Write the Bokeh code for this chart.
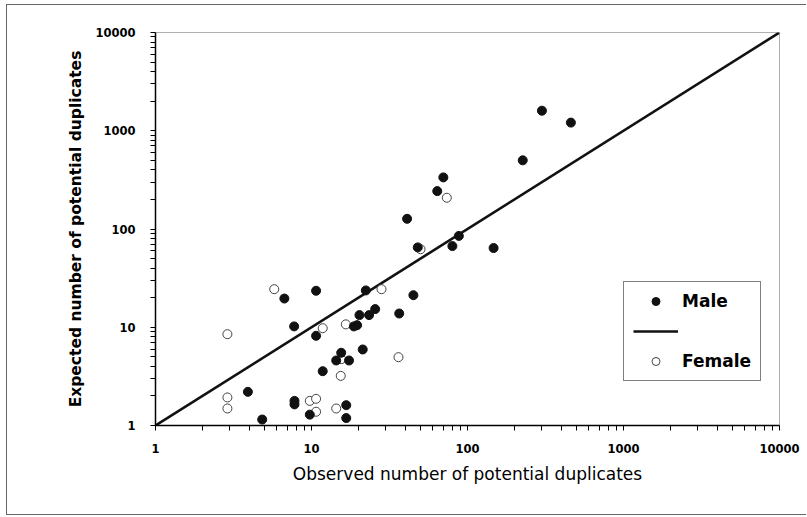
from bokeh.plotting import figure
from bokeh.models import (Range1d, FixedTicker, CustomJSTickFormatter, Legend, LegendItem,
                          ColumnDataSource)
from bokeh.embed import file_html
from bokeh.resources import INLINE

# ---- data ----
male_observed = [460, 300, 226, 70, 64, 41, 48, 88, 80, 147, 45, 6.7, 10.7, 22.3, 25.6, 20.3,
                 23.4, 36.5, 7.74, 18.7, 19.6, 10.7, 15.5, 14.4, 17.4, 21.3, 11.8, 3.91,
                 7.78, 7.78, 9.75, 16.7, 16.7, 4.83]
male_expected = [1210, 1600, 500, 335, 243, 127, 65, 85, 67, 64, 21.2, 19.6, 23.5, 23.7, 15.3, 13.3,
                 13.3, 13.8, 10.2, 10.2, 10.5, 8.18, 5.5, 4.59, 4.59, 5.94, 3.57, 2.2,
                 1.78, 1.64, 1.29, 1.61, 1.19, 1.15]
female_observed = [73.7, 50, 28.1, 5.77, 11.8, 16.6, 2.89, 15.5, 36.1, 15.4, 2.89, 2.89,
                   9.75, 10.7, 10.7, 14.4]
female_expected = [208, 62.3, 24.4, 24.4, 9.78, 10.7, 8.5, 4.73, 4.96, 3.2, 1.93, 1.49,
                   1.78, 1.87, 1.38, 1.49]
line_x = [1, 10000]
line_y = [1, 10000]
major_ticks = [1, 10, 100, 1000, 10000]
minor_ticks = [m * d for d in [1, 10, 100, 1000] for m in range(2, 10)]
all_ticks = sorted(major_ticks + minor_ticks)

p = figure(width=800, height=511, x_axis_type="log", y_axis_type="log",
           x_range=Range1d(1, 10000), y_range=Range1d(1, 10000),
           output_backend="svg", toolbar_location=None,
           min_border_left=148, min_border_right=28, min_border_top=27, min_border_bottom=91)
p.styles = {"border-top": "1px solid #666666", "border-left": "1px solid #666666",
            "border-bottom": "1px solid #666666", "margin-left": "6px", "margin-top": "4px"}
p.background_fill_color = "white"
p.border_fill_color = "white"
p.grid.visible = False
p.outline_line_color = "#b0b0b0"
p.outline_line_width = 1

fmt = CustomJSTickFormatter(code="""
const l = Math.log10(tick);
return Math.abs(l - Math.round(l)) < 1e-6 ? String(Math.round(tick)) : "";
""")

for ax in (p.xaxis[0], p.yaxis[0]):
    ax.ticker = FixedTicker(ticks=all_ticks)
    ax.formatter = fmt
    ax.axis_line_color = "black"
    ax.axis_line_width = 1.5
    ax.major_tick_line_color = "black"
    ax.minor_tick_line_color = None
    ax.major_tick_in = 0
    ax.major_tick_out = 5
    ax.major_label_text_font = "DejaVu Sans"
    ax.major_label_text_font_style = "bold"
    ax.major_label_text_font_size = "11.5px"
    ax.major_label_text_color = "black"
    ax.axis_label_text_color = "black"
    ax.axis_label_text_font = "DejaVu Sans"

p.xaxis.axis_label = "Observed number of potential duplicates"
p.xaxis.axis_label_text_font_size = "17px"
p.xaxis.axis_label_text_font_style = "normal"
p.xaxis.major_label_standoff = 13
p.xaxis.axis_label_standoff = 8

p.yaxis.axis_label = "Expected number of potential duplicates"
p.yaxis.axis_label_text_font_size = "15.5px"
p.yaxis.axis_label_text_font_style = "bold"
p.yaxis.major_label_standoff = 15
p.yaxis.axis_label_standoff = 7

# y = x reference line
p.line(line_x, line_y, line_color="#111111", line_width=2.6)

female = p.scatter(female_observed, female_expected, marker="circle", size=9,
                   fill_color="white", line_color="#444444", line_width=1)
male = p.scatter(male_observed, male_expected, marker="circle", size=9,
                 fill_color="#111111", line_color="#111111")

# legend-only renderers (small glyphs as in the reference); NaN keeps them off the plot
nan = float("nan")
leg_male = p.scatter("x", "y", source=ColumnDataSource(dict(x=[nan], y=[nan])), marker="circle",
                     size=5, fill_color="#111111", line_color="#111111")
leg_line = p.line("x", "y", source=ColumnDataSource(dict(x=[nan, nan], y=[nan, nan])),
                  line_color="#111111", line_width=2.6)
leg_female = p.scatter("x", "y", source=ColumnDataSource(dict(x=[nan], y=[nan])), marker="circle",
                       size=5, fill_color="white", line_color="#444444")

legend = Legend(items=[LegendItem(label="Male", renderers=[leg_male]),
                       LegendItem(label=" ", renderers=[leg_line]),
                       LegendItem(label="Female", renderers=[leg_female])],
                location=(468, 44))
legend.border_line_color = "black"
legend.border_line_width = 1
legend.background_fill_color = "white"
legend.label_text_font = "DejaVu Sans"
legend.label_text_font_style = "bold"
legend.label_text_font_size = "17px"
legend.label_text_color = "black"
legend.glyph_width = 45
legend.glyph_height = 20
legend.label_height = 20
legend.spacing = 10
legend.padding = 9
legend.margin = 0
legend.label_standoff = 4
p.add_layout(legend, "center")

open("out.html", "w").write(file_html(p, INLINE))
